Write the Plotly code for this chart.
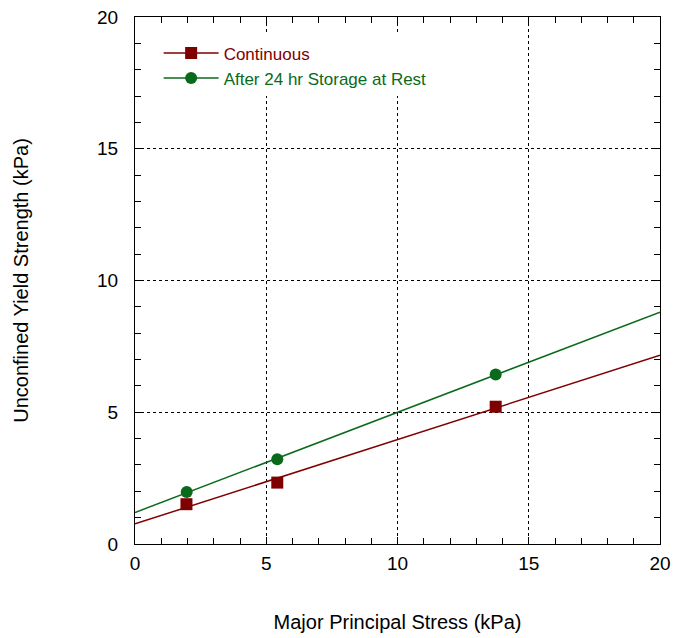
import numpy as np
import plotly.graph_objects as go

# Measured points: major principal stress vs. unconfined yield strength (kPa)
stress_continuous = [1.96, 5.42, 13.74]
strength_continuous = [1.51, 2.33, 5.21]

stress_stored = [1.97, 5.42, 13.74]
strength_stored = [1.97, 3.22, 6.43]

axis_ticks = [0, 5, 10, 15, 20]

RED = "#7f0000"
GREEN = "#0a6a1c"
FONT = "Liberation Sans, Arial, sans-serif"

fit_x = np.array([0.0, 20.0])


def linear_fit(x, y):
    slope, intercept = np.polyfit(x, y, 1)
    return slope * fit_x + intercept


series = [
    ("Continuous", stress_continuous, strength_continuous, RED, "square"),
    ("After 24 hr Storage at Rest", stress_stored, strength_stored, GREEN, "circle"),
]

fig = go.Figure()

for name, xs, ys, color, symbol in series:
    # least-squares trend line across the full axis
    fig.add_trace(go.Scatter(
        x=fit_x, y=linear_fit(xs, ys), mode="lines",
        line=dict(color=color, width=1.5),
        showlegend=False, hoverinfo="skip",
    ))
    fig.add_trace(go.Scatter(
        x=xs, y=ys, mode="markers", showlegend=False, name=name,
        marker=dict(symbol=symbol, size=12, color=color),
    ))

# legend entries: line with marker, label text in the series colour
for name, xs, ys, color, symbol in series:
    fig.add_trace(go.Scatter(
        x=[None], y=[None], mode="lines+markers",
        name=f"<span style='color:{color}'>{name}</span>",
        line=dict(color=color, width=1.5),
        marker=dict(symbol=symbol, size=12, color=color),
    ))

axis_common = dict(
    range=[0, 20],
    tickvals=axis_ticks,
    ticks="inside", ticklen=7, tickwidth=1, tickcolor="black",
    minor=dict(dtick=1, ticks="inside", ticklen=6, tickcolor="black", showgrid=False),
    showline=True, linecolor="black", linewidth=1, mirror="allticks",
    showgrid=True, gridcolor="black", griddash="dot", gridwidth=1,
    zeroline=False, automargin=False,
    tickfont=dict(family=FONT, size=19, color="black"),
    title_font=dict(family=FONT, size=20, color="black"),
)

fig.update_xaxes(**axis_common, title_text="Major Principal Stress (kPa)",
                 title_standoff=42, ticklabelstandoff=2)
fig.update_yaxes(**axis_common, title_text="Unconfined Yield Strength (kPa)",
                 title_standoff=63, ticklabelstandoff=12)

fig.update_layout(
    width=675, height=638,
    margin=dict(l=135, r=15, t=17, b=94),
    plot_bgcolor="white", paper_bgcolor="white",
    font=dict(family=FONT),
    legend=dict(
        x=0.045, y=0.965, xanchor="left", yanchor="top",
        bgcolor="white", borderwidth=0,
        font=dict(family=FONT, size=17),
        tracegroupgap=0, itemwidth=55,
    ),
)

fig.write_html("out.html")
